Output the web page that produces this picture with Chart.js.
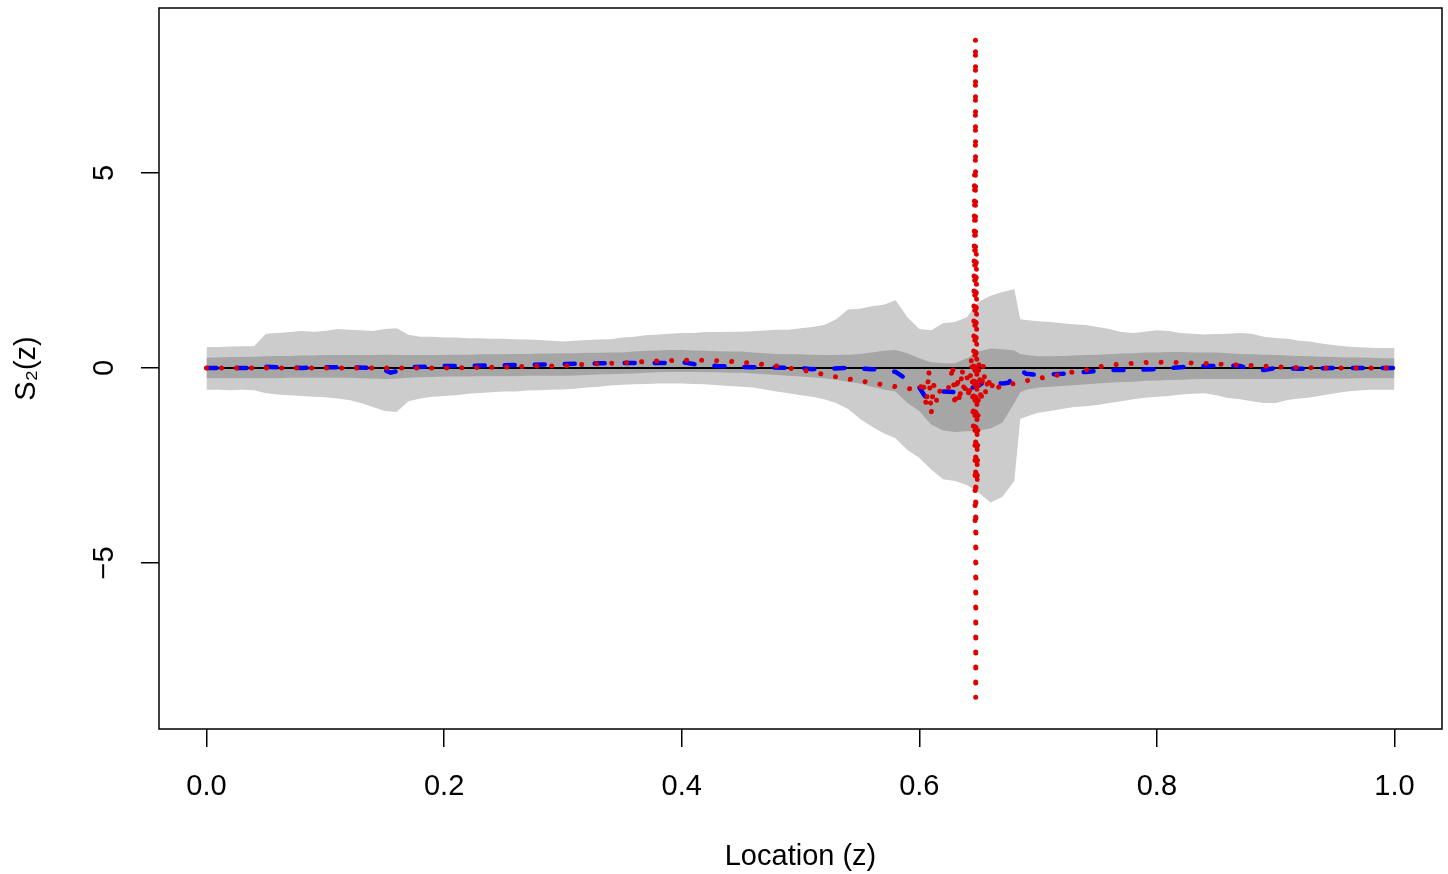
<!DOCTYPE html>
<html>
<head>
<meta charset="utf-8">
<script src="https://cdn.jsdelivr.net/npm/chart.js@4.4.1/dist/chart.umd.min.js"></script>
<style>
  body { margin: 0; background: #fff; }
  canvas { display: block; }
</style>
</head>
<body>
<canvas id="myChart" width="1448" height="874"></canvas>
<script>
// tick labels
const xTicks = [0, 0.2, 0.4, 0.6, 0.8, 1.0];
const xTickLabels = ['0.0', '0.2', '0.4', '0.6', '0.8', '1.0'];
const yTicks = [-5, 0, 5];
const yTickLabels = ['\u22125', '0', '5'];

// locations of the band boundaries
const bandZ = [0.00,0.01,0.02,0.03,0.04,0.05,0.06,0.07,0.08,0.09,
  0.10,0.11,0.12,0.13,0.14,0.15,0.16,0.17,0.18,0.19,
  0.20,0.21,0.22,0.23,0.24,0.25,0.26,0.27,0.28,0.29,
  0.30,0.31,0.32,0.33,0.34,0.35,0.36,0.37,0.38,0.39,
  0.40,0.41,0.42,0.43,0.44,0.45,0.46,0.47,0.48,0.49,
  0.50,0.51,0.52,0.53,0.54,0.55,0.56,0.57,0.58,0.59,
  0.60,0.61,0.62,0.63,0.64,0.65,0.66,0.67,0.68,0.685,0.69,
  0.70,0.71,0.72,0.73,0.74,0.75,0.76,0.77,0.78,0.79,
  0.80,0.81,0.82,0.83,0.84,0.85,0.86,0.87,0.88,0.89,
  0.90,0.91,0.92,0.93,0.94,0.95,0.96,0.97,0.98,0.99,1.00];

// outer (light) band
const outerUpper = [0.54,0.54,0.55,0.56,0.56,0.88,0.90,0.92,0.95,0.93,
  0.95,1.00,0.98,0.97,0.95,1.00,1.02,0.85,0.80,0.80,
  0.78,0.78,0.76,0.76,0.75,0.75,0.74,0.73,0.72,0.70,
  0.68,0.70,0.72,0.73,0.74,0.78,0.80,0.84,0.86,0.88,
  0.90,0.90,0.92,0.92,0.93,0.93,0.94,0.96,0.98,0.98,
  1.02,1.05,1.10,1.25,1.50,1.52,1.58,1.62,1.74,1.30,
  1.00,0.97,1.15,1.18,1.30,1.70,1.85,1.95,2.02,1.25,1.23,
  1.20,1.18,1.15,1.12,1.10,1.05,1.00,0.92,0.90,0.93,
  0.97,0.95,0.90,0.88,0.86,0.87,0.88,0.90,0.88,0.80,
  0.77,0.75,0.70,0.67,0.62,0.58,0.55,0.53,0.52,0.51,0.51];
const outerLower = [-0.56,-0.56,-0.57,-0.56,-0.57,-0.65,-0.68,-0.70,-0.72,-0.74,
  -0.75,-0.78,-0.82,-0.90,-1.00,-1.10,-1.13,-0.85,-0.78,-0.74,
  -0.72,-0.70,-0.66,-0.64,-0.62,-0.60,-0.60,-0.58,-0.57,-0.56,
  -0.55,-0.53,-0.50,-0.48,-0.45,-0.43,-0.42,-0.41,-0.40,-0.40,
  -0.40,-0.41,-0.42,-0.44,-0.46,-0.48,-0.50,-0.55,-0.60,-0.65,
  -0.70,-0.74,-0.80,-0.90,-1.05,-1.30,-1.50,-1.67,-1.80,-2.10,
  -2.30,-2.60,-2.85,-2.90,-3.00,-3.20,-3.45,-3.30,-2.90,-1.30,-1.25,
  -1.15,-1.10,-1.05,-1.00,-0.98,-0.95,-0.90,-0.85,-0.80,-0.76,
  -0.74,-0.72,-0.68,-0.66,-0.65,-0.70,-0.77,-0.80,-0.85,-0.90,
  -0.90,-0.82,-0.78,-0.75,-0.70,-0.65,-0.60,-0.58,-0.56,-0.56,-0.56];

// inner (dark) band
const innerUpper = [0.26,0.27,0.28,0.28,0.29,0.30,0.31,0.31,0.32,0.32,
  0.33,0.33,0.33,0.33,0.33,0.34,0.33,0.33,0.33,0.33,
  0.33,0.34,0.34,0.35,0.35,0.35,0.36,0.36,0.37,0.37,
  0.38,0.38,0.39,0.39,0.40,0.40,0.42,0.44,0.45,0.46,
  0.46,0.45,0.44,0.43,0.42,0.42,0.40,0.38,0.36,0.35,
  0.35,0.34,0.33,0.33,0.34,0.36,0.40,0.44,0.46,0.38,
  0.25,0.15,0.12,0.12,0.25,0.42,0.50,0.48,0.45,0.36,0.33,
  0.30,0.30,0.31,0.32,0.33,0.34,0.35,0.37,0.38,0.40,
  0.40,0.41,0.41,0.40,0.40,0.40,0.38,0.36,0.35,0.34,
  0.33,0.32,0.31,0.30,0.29,0.28,0.27,0.27,0.26,0.25,0.25];
const innerLower = [-0.26,-0.26,-0.26,-0.26,-0.26,-0.26,-0.26,-0.25,-0.25,-0.25,
  -0.25,-0.25,-0.25,-0.26,-0.27,-0.28,-0.27,-0.25,-0.24,-0.23,
  -0.22,-0.22,-0.22,-0.21,-0.21,-0.21,-0.21,-0.20,-0.20,-0.20,
  -0.20,-0.19,-0.18,-0.17,-0.16,-0.15,-0.14,-0.12,-0.11,-0.10,
  -0.10,-0.10,-0.11,-0.11,-0.12,-0.12,-0.14,-0.16,-0.18,-0.20,
  -0.22,-0.24,-0.26,-0.30,-0.35,-0.40,-0.48,-0.55,-0.60,-0.90,
  -1.10,-1.45,-1.60,-1.64,-1.62,-1.60,-1.55,-1.40,-0.90,-0.62,-0.56,
  -0.50,-0.48,-0.46,-0.44,-0.42,-0.40,-0.38,-0.36,-0.35,-0.33,
  -0.32,-0.31,-0.30,-0.29,-0.28,-0.28,-0.28,-0.28,-0.28,-0.28,
  -0.28,-0.28,-0.27,-0.27,-0.27,-0.27,-0.27,-0.26,-0.26,-0.26,-0.26];

// true curve (zero)
const trueZ = [0, 1];
const trueV = [0, 0];

// blue dashed estimate
const blueZ = [0.00,0.02,0.04,0.05,0.06,0.08,0.10,0.12,0.14,0.15,0.155,0.165,0.17,
  0.20,0.25,0.30,0.33,0.36,0.39,0.40,0.41,0.43,0.46,0.50,0.51,0.54,0.56,0.57,
  0.58,0.59,0.60,0.605,0.61,0.62,0.63,0.64,0.645,0.65,0.655,0.66,0.665,0.67,0.675,
  0.68,0.685,0.69,0.70,0.72,0.74,0.76,0.78,0.80,0.82,0.84,0.86,0.87,0.88,0.89,
  0.90,0.92,0.95,1.00];
const blueV = [0.00,0.00,0.00,0.03,0.02,0.00,0.02,0.02,0.00,-0.05,-0.12,-0.05,0.02,
  0.05,0.07,0.10,0.12,0.13,0.13,0.15,0.10,0.05,0.02,0.00,-0.03,0.00,-0.03,-0.05,
  -0.10,-0.30,-0.50,-0.74,-0.72,-0.60,-0.62,-0.55,-0.50,-0.45,-0.35,-0.32,-0.38,-0.40,-0.38,
  -0.20,-0.05,-0.15,-0.18,-0.15,-0.10,-0.05,-0.05,-0.03,0.02,0.05,0.06,0.05,-0.03,-0.05,
  0.00,-0.02,0.00,0.00];

// red dotted estimate
const redZ = [0.00,0.10,0.20,0.25,0.28,0.30,0.32,0.35,0.38,0.40,0.42,0.44,0.46,0.48,
  0.49,0.50,0.51,0.52,0.53,0.54,0.55,0.56,0.57,0.58,0.59,0.595,0.60,0.603,0.606,
  0.608,0.610,0.612,0.615,0.618,0.622,0.626,0.628,0.630,0.632,0.634,0.636,0.638,
  0.640,0.642,0.644,0.6455,0.6465,0.6470,0.6473,0.6475,0.6480,0.6488,0.650,0.652,
  0.654,0.656,0.658,0.660,0.663,0.667,0.670,0.675,0.68,0.69,0.70,0.71,0.72,0.73,
  0.74,0.75,0.76,0.77,0.78,0.79,0.80,0.82,0.84,0.86,0.88,0.90,0.92,0.95,1.00];
const redV = [0.00,0.00,0.00,0.02,0.05,0.05,0.10,0.13,0.18,0.20,0.20,0.17,0.12,0.05,
  0.00,-0.05,-0.10,-0.17,-0.23,-0.28,-0.33,-0.38,-0.43,-0.48,-0.52,-0.55,-0.60,-0.30,-1.00,
  -0.05,-1.20,-0.40,-0.90,-0.50,-0.60,-0.45,0.10,-1.00,-0.20,-0.90,0.00,-0.70,
  -0.20,-0.80,0.30,-1.50,5.00,-4.10,8.45,-8.45,3.00,-3.00,0.20,-0.90,
  0.10,-0.70,-0.20,-0.60,-0.30,-0.50,-0.45,-0.42,-0.40,-0.33,-0.27,-0.22,-0.16,-0.10,
  -0.05,0.02,0.07,0.10,0.12,0.14,0.15,0.14,0.12,0.09,0.06,0.03,0.01,0.00,0.00];

const pts = (zs, vs) => zs.map((z, i) => ({ x: z, y: vs[i] }));

const FONT = '"Liberation Sans", Arial, Helvetica, sans-serif';
Chart.defaults.font.family = FONT;
Chart.defaults.color = '#000';

const frame = {
  id: 'frame',
  afterDatasetsDraw(chart) {
    const { ctx, chartArea: a } = chart;
    ctx.save();
    ctx.strokeStyle = '#000';
    ctx.lineWidth = 1.5;
    ctx.strokeRect(a.left, a.top, a.right - a.left, a.bottom - a.top);
    ctx.restore();
  }
};

const ctx = document.getElementById('myChart');

new Chart(ctx, {
  type: 'scatter',
  data: {
    datasets: [
      { data: pts(bandZ, outerUpper), showLine: true, fill: 1, backgroundColor: '#cccccc',
        borderWidth: 0, pointRadius: 0, order: 10 },
      { data: pts(bandZ, outerLower), showLine: true, fill: false,
        borderWidth: 0, pointRadius: 0, order: 10 },
      { data: pts(bandZ, innerUpper), showLine: true, fill: 3, backgroundColor: '#a6a6a6',
        borderWidth: 0, pointRadius: 0, order: 9 },
      { data: pts(bandZ, innerLower), showLine: true, fill: false,
        borderWidth: 0, pointRadius: 0, order: 9 },
      { data: pts(trueZ, trueV), showLine: true, borderColor: '#000', borderWidth: 2,
        pointRadius: 0, order: 2 },
      { data: pts(blueZ, blueV), showLine: true, borderColor: '#0000ff', borderWidth: 4.5,
        borderDash: [10, 20], borderCapStyle: 'round', borderJoinStyle: 'round',
        pointRadius: 0, order: 1 },
      { data: pts(redZ, redV), showLine: true, borderColor: '#e00000', borderWidth: 5,
        borderDash: [0.01, 15], borderCapStyle: 'round', borderJoinStyle: 'round',
        pointRadius: 0, order: 0 }
    ]
  },
  options: {
    responsive: false,
    animation: false,
    devicePixelRatio: 1,
    layout: { padding: { top: 8, right: 6, bottom: 0, left: 0 } },
    plugins: { legend: { display: false }, tooltip: { enabled: false } },
    scales: {
      x: {
        type: 'linear',
        min: -0.04,
        max: 1.04,
        afterBuildTicks: s => { s.ticks = xTicks.map(v => ({ value: v })); },
        afterFit: s => { s.height = 145; s.paddingLeft = 0; s.paddingRight = 0; },
        ticks: {
          callback: (v, i) => xTickLabels[i],
          font: { size: 29 },
          color: '#000',
          padding: 23,
          maxRotation: 0,
          autoSkip: false
        },
        grid: { display: true, drawOnChartArea: false, drawTicks: true, tickLength: 18,
                color: '#000', lineWidth: 1.5 },
        border: { display: false },
        title: { display: true, text: 'Location (z)', font: { size: 29 }, color: '#000',
                 padding: { top: 0, bottom: 0 } }
      },
      y: {
        type: 'linear',
        min: -9.256,
        max: 9.23,
        afterBuildTicks: s => { s.ticks = yTicks.map(v => ({ value: v })); },
        afterFit: s => { s.width = 159; s.paddingTop = 0; s.paddingBottom = 0; },
        ticks: {
          callback: (v, i) => yTickLabels[i],
          font: { size: 29 },
          color: '#000',
          padding: 19,
          minRotation: 90,
          maxRotation: 90,
          crossAlign: 'center',
          autoSkip: false
        },
        grid: { display: true, drawOnChartArea: false, drawTicks: true, tickLength: 18,
                color: '#000', lineWidth: 1.5 },
        border: { display: false },
        title: { display: true, text: 'S\u2082(z)', font: { size: 29 }, color: '#000',
                 padding: { top: 10, bottom: 0 } }
      }
    }
  },
  plugins: [frame]
});
</script>
</body>
</html>
